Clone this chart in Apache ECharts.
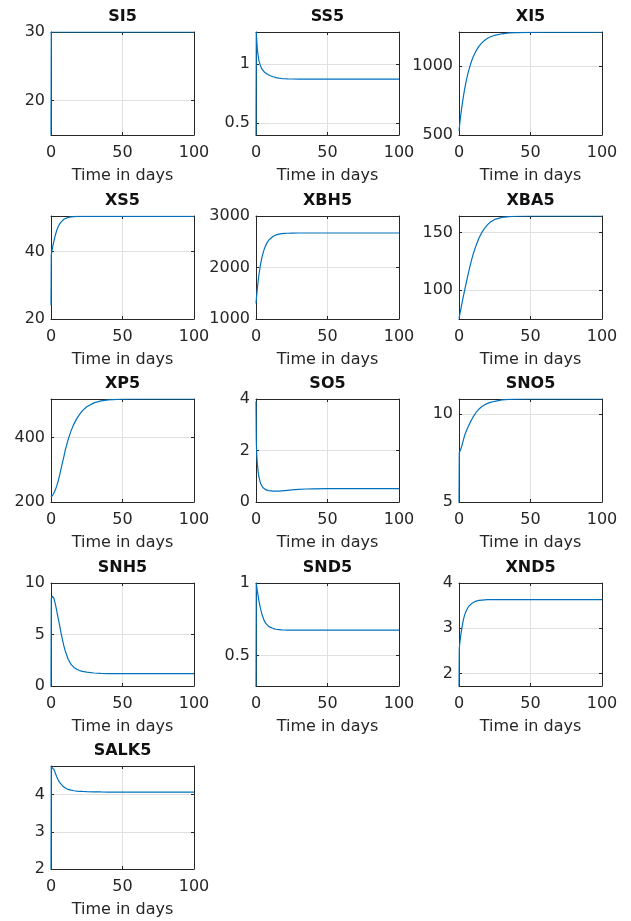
<!DOCTYPE html>
<html><head><meta charset="utf-8">
<script src="https://cdn.jsdelivr.net/npm/echarts@6/dist/echarts.min.js"></script>
<style>html,body{margin:0;padding:0;background:#fff}#c{width:631px;height:921px}</style>
</head><body><div id="c"></div>
<script>
// time samples (days)
const t = [0, 0.2, 0.5, 1, 1.5, 2, 3, 4, 5, 6, 7, 8, 9, 10, 12, 14, 16, 18, 20, 22, 25, 30, 35, 40, 50, 60, 80, 100];

const SI5   = [15, 30, 30, 30, 30, 30, 30, 30, 30, 30, 30, 30, 30, 30, 30, 30, 30, 30, 30, 30, 30, 30, 30, 30, 30, 30, 30, 30];
const SS5   = [0.4, 1.27, 1.2, 1.12, 1.07, 1.03, 0.99, 0.96, 0.945, 0.93, 0.92, 0.913, 0.906, 0.9, 0.892, 0.885, 0.88, 0.877, 0.875, 0.874, 0.873, 0.872, 0.872, 0.872, 0.872, 0.872, 0.872, 0.872];
const XI5   = [530, 550, 578, 624, 666, 705, 776, 838, 891, 938, 978, 1013, 1044, 1071, 1114, 1147, 1171, 1190, 1204, 1215, 1226, 1237, 1243, 1245, 1247, 1248, 1248, 1248];
const XS5   = [24, 39, 39.8, 41, 42, 43, 44.8, 46.2, 47.3, 48.1, 48.7, 49.2, 49.55, 49.8, 50.1, 50.25, 50.33, 50.37, 50.4, 50.4, 50.4, 50.4, 50.4, 50.4, 50.4, 50.4, 50.4, 50.4];
const XBH5  = [1300, 1369, 1465, 1610, 1737, 1849, 2036, 2178, 2289, 2375, 2443, 2493, 2534, 2564, 2607, 2632, 2647, 2656, 2662, 2665, 2668, 2670, 2670, 2670, 2670, 2670, 2670, 2670];
const XBA5  = [75, 76.3, 78.2, 81.4, 84.6, 87.8, 94, 100, 105.8, 111.5, 117, 122.2, 127, 131.5, 139, 145.3, 150.2, 154, 157, 159.2, 161.5, 163.3, 164, 164.3, 164.5, 164.5, 164.5, 164.5];
const XP5   = [215, 215.5, 217, 220, 223, 227, 237, 250, 265, 283, 302, 322, 341, 362, 394, 421, 442, 459, 472, 484, 496, 508, 514, 517, 519.5, 520, 520, 520];
const SO5   = [3.9, 2.4, 1.85, 1.45, 1.18, 0.98, 0.76, 0.63, 0.55, 0.5, 0.47, 0.45, 0.44, 0.43, 0.42, 0.42, 0.425, 0.435, 0.445, 0.455, 0.47, 0.49, 0.505, 0.51, 0.52, 0.52, 0.52, 0.52];
const SNO5  = [5, 7.8, 7.85, 7.95, 8.07, 8.2, 8.5, 8.8, 9.0, 9.2, 9.38, 9.55, 9.7, 9.85, 10.1, 10.28, 10.42, 10.52, 10.6, 10.66, 10.72, 10.8, 10.83, 10.84, 10.85, 10.85, 10.85, 10.85];
const SNH5  = [0, 8.5, 8.6, 8.7, 8.65, 8.5, 8.0, 7.3, 6.6, 5.9, 5.15, 4.5, 3.9, 3.4, 2.6, 2.1, 1.8, 1.62, 1.5, 1.42, 1.34, 1.26, 1.22, 1.21, 1.2, 1.2, 1.2, 1.2];
const SND5  = [0.29, 1.0, 0.975, 0.94, 0.91, 0.88, 0.83, 0.79, 0.76, 0.735, 0.72, 0.708, 0.699, 0.693, 0.686, 0.681, 0.679, 0.677, 0.676, 0.675, 0.675, 0.675, 0.675, 0.675, 0.675, 0.675, 0.675, 0.675];
const XND5  = [1.72, 2.55, 2.65, 2.78, 2.9, 3.0, 3.18, 3.3, 3.38, 3.44, 3.49, 3.52, 3.55, 3.57, 3.6, 3.615, 3.623, 3.627, 3.63, 3.63, 3.63, 3.63, 3.63, 3.63, 3.63, 3.63, 3.63, 3.63];
const SALK5 = [2, 4.75, 4.75, 4.74, 4.71, 4.68, 4.58, 4.48, 4.4, 4.33, 4.28, 4.24, 4.21, 4.18, 4.14, 4.12, 4.105, 4.095, 4.09, 4.085, 4.08, 4.075, 4.072, 4.07, 4.07, 4.07, 4.07, 4.07];

const titles = ['SI5','SS5','XI5','XS5','XBH5','XBA5','XP5','SO5','SNO5','SNH5','SND5','XND5','SALK5'];
const values = [SI5, SS5, XI5, XS5, XBH5, XBA5, XP5, SO5, SNO5, SNH5, SND5, XND5, SALK5];
const yMins  = [15, 0.4, 500, 20, 1000, 74.5, 200, 0, 5, 0, 0.29, 1.72, 2];
const yMaxs  = [30, 1.27, 1250, 50.5, 3000, 164.5, 520, 4, 10.85, 10, 1, 4, 4.77];
const yTicks = [[20,30],[0.5,1],[500,1000],[20,40],[1000,2000,3000],[100,150],[200,400],[0,2,4],[5,10],[0,5,10],[0.5,1],[2,3,4],[2,3,4]];
const xTicks = [0, 50, 100];
const xLabel = 'Time in days';

const colLeft = [51, 256, 459];
const rowTop = [32, 216, 399, 583, 766];
const W = 143, H = 103;
const axisCol = '#262626';
const FONT = 'DejaVu Sans';
const fmt = v => String(v);

const grid = [], xAxis = [], yAxis = [], series = [], title = [];
titles.forEach((name, i) => {
  const r = Math.floor(i / 3), c = i % 3;
  const left = colLeft[c], top = rowTop[r];
  grid.push({left: left, top: top, width: W, height: H, containLabel: false});
  title.push({text: name, left: left + W / 2, top: top - 23, textAlign: 'center', padding: 0,
    textStyle: {fontFamily: FONT, fontSize: 16, fontWeight: 'bold', color: '#111'}});
  const lineStyle = {color: axisCol, width: 1};
  xAxis.push({type: 'value', gridIndex: i, min: 0, max: 100, interval: 50, position: 'bottom',
    name: xLabel, nameLocation: 'middle', nameGap: 33,
    nameTextStyle: {fontFamily: FONT, fontSize: 16, color: axisCol},
    axisLine: {show: true, onZero: false, lineStyle: lineStyle},
    axisTick: {show: true, inside: true, length: 3, lineStyle: lineStyle},
    axisLabel: {fontFamily: FONT, fontSize: 16, color: axisCol, margin: 10, customValues: xTicks, formatter: fmt},
    splitLine: {show: true, lineStyle: {color: '#e0e0e0', width: 1}}});
  xAxis.push({type: 'value', gridIndex: i, min: 0, max: 100, interval: 50, position: 'top',
    axisLine: {show: true, onZero: false, lineStyle: lineStyle},
    axisTick: {show: true, inside: true, length: 3, lineStyle: lineStyle},
    axisLabel: {show: false}, splitLine: {show: false}});
  yAxis.push({type: 'value', gridIndex: i, min: yMins[i], max: yMaxs[i], position: 'left',
    axisLine: {show: true, onZero: false, lineStyle: lineStyle},
    axisTick: {show: true, inside: true, length: 3, lineStyle: lineStyle, customValues: yTicks[i]},
    axisLabel: {fontFamily: FONT, fontSize: 16, color: axisCol, margin: 6, customValues: yTicks[i], formatter: fmt},
    splitLine: {show: true, lineStyle: {color: '#e0e0e0', width: 1}}});
  yAxis.push({type: 'value', gridIndex: i, min: yMins[i], max: yMaxs[i], position: 'right',
    axisLine: {show: true, onZero: false, lineStyle: lineStyle},
    axisTick: {show: true, inside: true, length: 3, lineStyle: lineStyle, customValues: yTicks[i]},
    axisLabel: {show: false}, splitLine: {show: false}});
  series.push({type: 'line', xAxisIndex: 2 * i, yAxisIndex: 2 * i, showSymbol: false,
    smooth: false, clip: true,
    lineStyle: {color: '#0072BD', width: 1.2},
    data: t.map((tt, k) => [tt, values[i][k]])});
});

const chart = echarts.init(document.getElementById('c'), null, {renderer: 'canvas'});
chart.setOption({animation: false, backgroundColor: '#fff', title, grid, xAxis, yAxis, series});
</script>
</body></html>
